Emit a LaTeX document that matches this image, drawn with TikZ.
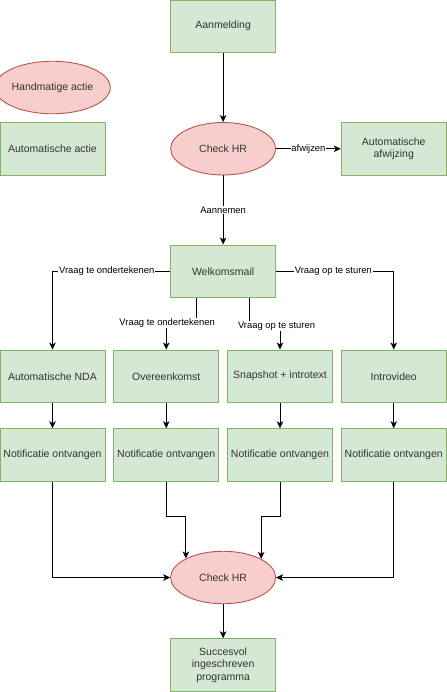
\documentclass[tikz,border=0pt]{standalone}
\usepackage{fontspec}
\setmainfont{Liberation Sans}
\usetikzlibrary{arrows.meta,shapes.geometric}
\definecolor{gfill}{HTML}{D5E8D4}
\definecolor{gdraw}{HTML}{82B366}
\definecolor{rfill}{HTML}{F8CECC}
\definecolor{rdraw}{HTML}{B85450}
\definecolor{txt}{HTML}{333333}
\tikzset{
  gbox/.style={rectangle, draw=gdraw, fill=gfill, line width=0.9pt, minimum width=105pt, minimum height=52.5pt, inner sep=0pt, align=center, text=txt, font=\fontsize{10.5pt}{12.5pt}\selectfont},
  rell/.style={ellipse, draw=rdraw, fill=rfill, line width=0.9pt, minimum width=105pt, minimum height=52.5pt, inner sep=0pt, align=center, text=txt, font=\fontsize{10.5pt}{12.5pt}\selectfont},
  arr/.style={draw=black, line width=0.9pt, -{Stealth[length=7pt,width=6.5pt,inset=1.8pt]}},
  elabel/.style={fill=white, inner sep=0.8pt, text=black, font=\fontsize{9.4pt}{11pt}\selectfont}
}
\begin{document}
\begin{tikzpicture}[x=0.875pt,y=-0.875pt]
\useasboundingbox (0,0) rectangle (510.86,790.86);
% nodes
\node[gbox] (aan) at (255,30) {Aanmelding};
\node[rell] (hand) at (60,100) {Handmatige actie};
\node[gbox] (auto) at (60,170) {Automatische actie};
\node[rell] (chk1) at (255,170) {Check HR};
\node[gbox] (afw) at (450,170) {Automatische\\afwijzing};
\node[gbox] (welk) at (255,310) {Welkomsmail};
\node[gbox] (nda) at (60,430) {Automatische NDA};
\node[gbox] (over) at (190,430) {Overeenkomst};
\node[gbox] (snap) at (320,430) {Snapshot + introtext};
\node[gbox] (intro) at (450,430) {Introvideo};
\node[gbox] (n1) at (60,520) {Notificatie ontvangen};
\node[gbox] (n2) at (190,520) {Notificatie ontvangen};
\node[gbox] (n3) at (320,520) {Notificatie ontvangen};
\node[gbox] (n4) at (450,520) {Notificatie ontvangen};
\node[rell] (chk2) at (255,660) {Check HR};
\node[gbox] (succ) at (255,760) {Succesvol\\ingeschreven\\programma};
% bend coordinates
\coordinate (w2a) at (225,370);
\coordinate (w3a) at (285,370);
\coordinate (b2) at (190,590);
\coordinate (b3) at (320,590);
% edges
\draw[arr] (aan) -- (chk1);
\draw[arr] (chk1) -- node[elabel] {afwijzen} (afw);
\draw[arr] (chk1) -- node[elabel] {Aannemen} (welk);
\draw[arr] (welk.west) -| (nda.north);
\node[elabel] (l1) at (122,310) {Vraag te ondertekenen};
\draw[arr] (welk.east) -| (intro.north);
\node[elabel] (l4) at (381,310) {Vraag op te sturen};
\draw[arr] (welk.south -| w2a) -- (w2a) -| (over.north);
\node[elabel] (l2) at (191,369) {Vraag te ondertekenen};
\draw[arr] (welk.south -| w3a) -- (w3a) -| (snap.north);
\node[elabel] (l3) at (316,372.5) {Vraag op te sturen};
\draw[arr] (nda) -- (n1);
\draw[arr] (over) -- (n2);
\draw[arr] (snap) -- (n3);
\draw[arr] (intro) -- (n4);
\draw[arr] (n1.south) |- (chk2.west);
\draw[arr] (n4.south) |- (chk2.east);
\draw[arr] (n2.south) -- (b2) -| (chk2.153.5);
\draw[arr] (n3.south) -- (b3) -| (chk2.26.5);
\draw[arr] (chk2) -- (succ);
\end{tikzpicture}
\end{document}
